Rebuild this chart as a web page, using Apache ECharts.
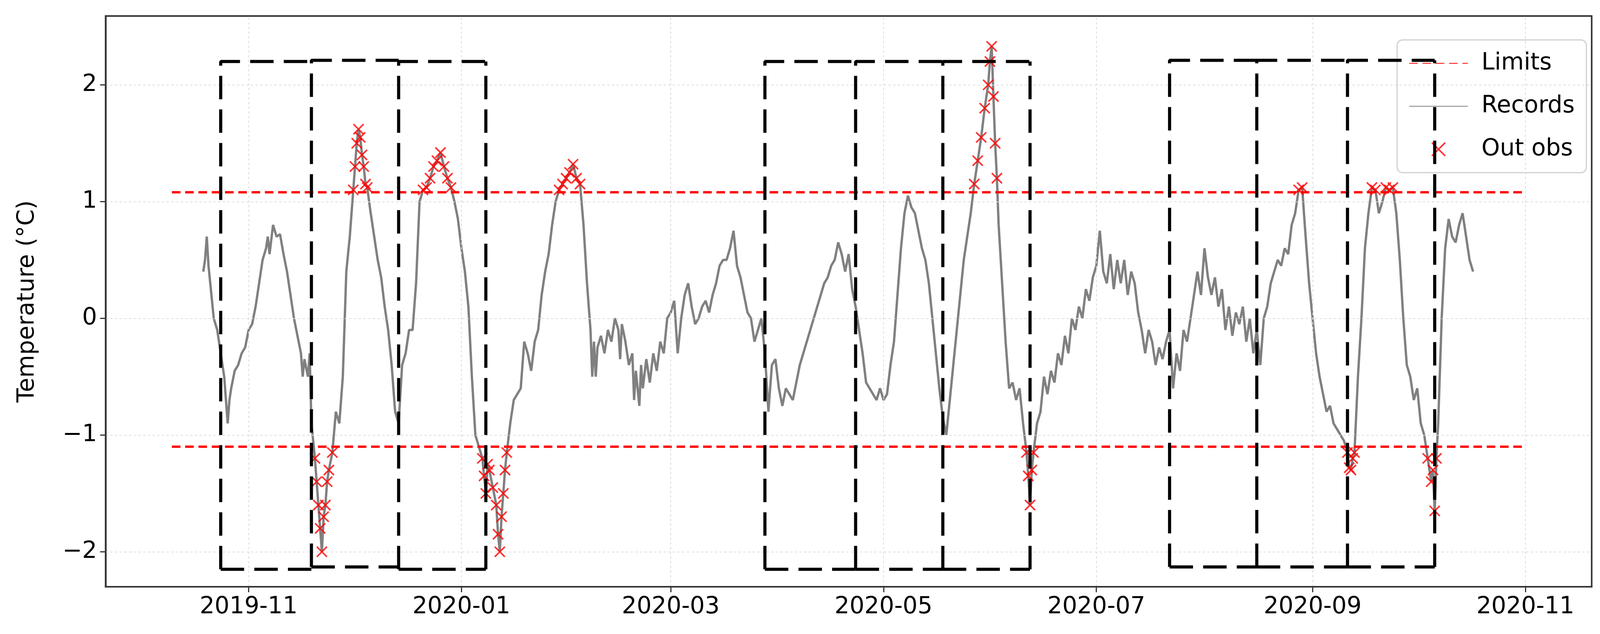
<!DOCTYPE html>
<html>
<head>
<meta charset="utf-8">
<script src="https://cdn.jsdelivr.net/npm/echarts@6/dist/echarts.min.js"></script>
<style>html,body{margin:0;padding:0;overflow:hidden;background:#fff}#chart{width:100vw;height:100vh}</style>
</head>
<body>
<div id="chart"></div>
<script>
// records: [date, temperature]
const records = [
  ['2019-10-19', 0.4], ['2019-10-19 12:00', 0.5], ['2019-10-20', 0.7], ['2019-10-20 12:00', 0.45], ['2019-10-21', 0.3],
  ['2019-10-22', 0.0], ['2019-10-23', -0.1], ['2019-10-24', -0.3], ['2019-10-25', -0.5], ['2019-10-26', -0.9],
  ['2019-10-26 12:00', -0.7], ['2019-10-27', -0.6], ['2019-10-28', -0.45], ['2019-10-29', -0.4], ['2019-10-30', -0.3],
  ['2019-10-31', -0.25], ['2019-11-01', -0.1], ['2019-11-02', -0.05], ['2019-11-03', 0.1], ['2019-11-04', 0.3],
  ['2019-11-05', 0.5], ['2019-11-06', 0.6], ['2019-11-06 12:00', 0.7], ['2019-11-07', 0.55], ['2019-11-08', 0.8],
  ['2019-11-09', 0.7], ['2019-11-10', 0.72], ['2019-11-11', 0.55], ['2019-11-12', 0.4], ['2019-11-13', 0.2],
  ['2019-11-14', 0.0], ['2019-11-15', -0.15], ['2019-11-16', -0.3], ['2019-11-16 12:00', -0.5], ['2019-11-17', -0.35],
  ['2019-11-18', -0.5], ['2019-11-18 12:00', -0.3], ['2019-11-19', -0.9], ['2019-11-20', -1.2], ['2019-11-20 12:00', -1.4],
  ['2019-11-21', -1.6], ['2019-11-21 12:00', -1.8], ['2019-11-22', -2.0], ['2019-11-22 12:00', -1.7], ['2019-11-23', -1.6],
  ['2019-11-23 12:00', -1.4], ['2019-11-24', -1.3], ['2019-11-25', -1.15], ['2019-11-26', -0.8], ['2019-11-27', -0.9],
  ['2019-11-28', -0.5], ['2019-11-29', 0.4], ['2019-11-30', 0.7], ['2019-12-01', 1.1], ['2019-12-01 12:00', 1.3],
  ['2019-12-02', 1.5], ['2019-12-02 12:00', 1.62], ['2019-12-03', 1.55], ['2019-12-03 12:00', 1.4], ['2019-12-04', 1.3],
  ['2019-12-04 12:00', 1.15], ['2019-12-05', 1.12], ['2019-12-06', 0.9], ['2019-12-07', 0.7], ['2019-12-08', 0.5],
  ['2019-12-09', 0.35], ['2019-12-10', 0.1], ['2019-12-11', -0.1], ['2019-12-12', -0.4], ['2019-12-13', -0.8],
  ['2019-12-14', -0.9], ['2019-12-15', -0.4], ['2019-12-16', -0.3], ['2019-12-17', -0.1], ['2019-12-18', -0.1],
  ['2019-12-19', 0.3], ['2019-12-20', 1.0], ['2019-12-21', 1.1], ['2019-12-22', 1.12], ['2019-12-23', 1.2],
  ['2019-12-24', 1.3], ['2019-12-25', 1.35], ['2019-12-26', 1.42], ['2019-12-27', 1.3], ['2019-12-28', 1.2],
  ['2019-12-29', 1.12], ['2019-12-30', 1.0], ['2019-12-31', 0.85], ['2020-01-01', 0.6], ['2020-01-02', 0.4],
  ['2020-01-03', 0.1], ['2020-01-04', -0.5], ['2020-01-05', -1.0], ['2020-01-06', -1.1], ['2020-01-07', -1.2],
  ['2020-01-07 12:00', -1.35], ['2020-01-08', -1.5], ['2020-01-08 12:00', -1.25], ['2020-01-09', -1.3], ['2020-01-10', -1.45],
  ['2020-01-11', -1.6], ['2020-01-11 12:00', -1.85], ['2020-01-12', -2.0], ['2020-01-12 12:00', -1.7], ['2020-01-13', -1.5],
  ['2020-01-13 12:00', -1.3], ['2020-01-14', -1.15], ['2020-01-15', -0.9], ['2020-01-16', -0.7], ['2020-01-17', -0.65],
  ['2020-01-18', -0.6], ['2020-01-19', -0.2], ['2020-01-20', -0.3], ['2020-01-21', -0.45], ['2020-01-22', -0.2],
  ['2020-01-23', -0.1], ['2020-01-24', 0.2], ['2020-01-25', 0.4], ['2020-01-26', 0.55], ['2020-01-27', 0.8],
  ['2020-01-28', 1.0], ['2020-01-29', 1.1], ['2020-01-30', 1.15], ['2020-01-31', 1.2], ['2020-02-01', 1.25],
  ['2020-02-02', 1.32], ['2020-02-03', 1.2], ['2020-02-04', 1.15], ['2020-02-05', 0.8], ['2020-02-06', 0.3],
  ['2020-02-07', -0.1], ['2020-02-07 12:00', -0.5], ['2020-02-08', -0.2], ['2020-02-08 12:00', -0.5], ['2020-02-09', -0.25],
  ['2020-02-10', -0.15], ['2020-02-11', -0.3], ['2020-02-12', -0.1], ['2020-02-13', -0.2], ['2020-02-14', 0.0],
  ['2020-02-15', -0.1], ['2020-02-15 12:00', -0.35], ['2020-02-16', -0.05], ['2020-02-17', -0.2], ['2020-02-18', -0.4],
  ['2020-02-19', -0.3], ['2020-02-19 12:00', -0.7], ['2020-02-20', -0.45], ['2020-02-21', -0.75], ['2020-02-21 12:00', -0.4],
  ['2020-02-22', -0.6], ['2020-02-23', -0.35], ['2020-02-24', -0.55], ['2020-02-25', -0.3], ['2020-02-26', -0.45],
  ['2020-02-27', -0.2], ['2020-02-28', -0.3], ['2020-02-29', 0.0], ['2020-03-01', 0.05], ['2020-03-02', 0.15],
  ['2020-03-03', -0.3], ['2020-03-04', 0.0], ['2020-03-05', 0.2], ['2020-03-06', 0.3], ['2020-03-07', 0.1],
  ['2020-03-08', -0.05], ['2020-03-09', 0.0], ['2020-03-10', 0.1], ['2020-03-11', 0.15], ['2020-03-12', 0.05],
  ['2020-03-13', 0.2], ['2020-03-14', 0.3], ['2020-03-15', 0.45], ['2020-03-16', 0.5], ['2020-03-17', 0.5],
  ['2020-03-18', 0.6], ['2020-03-19', 0.75], ['2020-03-20', 0.45], ['2020-03-21', 0.35], ['2020-03-22', 0.2],
  ['2020-03-23', 0.05], ['2020-03-24', 0.0], ['2020-03-25', -0.2], ['2020-03-26', -0.1], ['2020-03-27', 0.0],
  ['2020-03-28', -0.3], ['2020-03-29', -0.8], ['2020-03-30', -0.4], ['2020-03-31', -0.35], ['2020-04-01', -0.6],
  ['2020-04-02', -0.75], ['2020-04-03', -0.6], ['2020-04-04', -0.65], ['2020-04-05', -0.7], ['2020-04-06', -0.55],
  ['2020-04-07', -0.4], ['2020-04-08', -0.3], ['2020-04-09', -0.2], ['2020-04-10', -0.1], ['2020-04-11', 0.0],
  ['2020-04-12', 0.1], ['2020-04-13', 0.2], ['2020-04-14', 0.3], ['2020-04-15', 0.35], ['2020-04-16', 0.45],
  ['2020-04-17', 0.5], ['2020-04-18', 0.65], ['2020-04-19', 0.55], ['2020-04-20', 0.4], ['2020-04-21', 0.55],
  ['2020-04-22', 0.25], ['2020-04-23', 0.1], ['2020-04-24', -0.1], ['2020-04-25', -0.3], ['2020-04-26', -0.55],
  ['2020-04-27', -0.6], ['2020-04-28', -0.65], ['2020-04-29', -0.7], ['2020-04-30', -0.6], ['2020-05-01', -0.7],
  ['2020-05-02', -0.65], ['2020-05-03', -0.4], ['2020-05-04', -0.2], ['2020-05-05', 0.2], ['2020-05-06', 0.6],
  ['2020-05-07', 0.9], ['2020-05-08', 1.05], ['2020-05-09', 0.95], ['2020-05-10', 0.9], ['2020-05-11', 0.75],
  ['2020-05-12', 0.6], ['2020-05-13', 0.5], ['2020-05-14', 0.3], ['2020-05-15', 0.0], ['2020-05-16', -0.3],
  ['2020-05-17', -0.6], ['2020-05-18', -0.85], ['2020-05-19', -1.0], ['2020-05-20', -0.7], ['2020-05-21', -0.4],
  ['2020-05-22', -0.1], ['2020-05-23', 0.2], ['2020-05-24', 0.5], ['2020-05-25', 0.7], ['2020-05-26', 0.9],
  ['2020-05-27', 1.15], ['2020-05-28', 1.35], ['2020-05-29', 1.55], ['2020-05-30', 1.8], ['2020-05-31', 2.0],
  ['2020-05-31 12:00', 2.2], ['2020-06-01', 2.33], ['2020-06-01 12:00', 1.9], ['2020-06-02', 1.5], ['2020-06-02 12:00', 1.2],
  ['2020-06-03', 0.8], ['2020-06-04', 0.3], ['2020-06-05', -0.2], ['2020-06-06', -0.6], ['2020-06-07', -0.55],
  ['2020-06-08', -0.7], ['2020-06-09', -0.6], ['2020-06-10', -0.9], ['2020-06-11', -1.15], ['2020-06-11 12:00', -1.35],
  ['2020-06-12', -1.6], ['2020-06-12 12:00', -1.3], ['2020-06-13', -1.15], ['2020-06-14', -0.9], ['2020-06-15', -0.8],
  ['2020-06-16', -0.5], ['2020-06-17', -0.65], ['2020-06-18', -0.45], ['2020-06-19', -0.55], ['2020-06-20', -0.3],
  ['2020-06-21', -0.4], ['2020-06-22', -0.15], ['2020-06-23', -0.3], ['2020-06-24', 0.0], ['2020-06-25', -0.1],
  ['2020-06-26', 0.1], ['2020-06-27', 0.0], ['2020-06-28', 0.25], ['2020-06-29', 0.15], ['2020-06-30', 0.35],
  ['2020-07-01', 0.45], ['2020-07-02', 0.75], ['2020-07-03', 0.4], ['2020-07-04', 0.3], ['2020-07-05', 0.55],
  ['2020-07-06', 0.25], ['2020-07-07', 0.5], ['2020-07-08', 0.3], ['2020-07-09', 0.5], ['2020-07-10', 0.2],
  ['2020-07-11', 0.4], ['2020-07-12', 0.3], ['2020-07-13', 0.05], ['2020-07-14', -0.1], ['2020-07-15', -0.3],
  ['2020-07-16', -0.1], ['2020-07-17', -0.2], ['2020-07-18', -0.4], ['2020-07-19', -0.25], ['2020-07-20', -0.35],
  ['2020-07-21', -0.2], ['2020-07-22', -0.1], ['2020-07-23', -0.6], ['2020-07-24', -0.3], ['2020-07-25', -0.45],
  ['2020-07-26', -0.1], ['2020-07-27', -0.2], ['2020-07-28', 0.0], ['2020-07-29', 0.2], ['2020-07-30', 0.4],
  ['2020-07-31', 0.2], ['2020-08-01', 0.6], ['2020-08-02', 0.35], ['2020-08-03', 0.2], ['2020-08-04', 0.35],
  ['2020-08-05', 0.1], ['2020-08-06', 0.25], ['2020-08-07', -0.1], ['2020-08-08', 0.1], ['2020-08-09', -0.15],
  ['2020-08-10', 0.05], ['2020-08-11', -0.05], ['2020-08-12', 0.1], ['2020-08-13', -0.2], ['2020-08-14', 0.0],
  ['2020-08-15', -0.3], ['2020-08-16', -0.1], ['2020-08-17', -0.4], ['2020-08-18', 0.0], ['2020-08-19', 0.1],
  ['2020-08-20', 0.3], ['2020-08-21', 0.4], ['2020-08-22', 0.5], ['2020-08-23', 0.45], ['2020-08-24', 0.6],
  ['2020-08-25', 0.55], ['2020-08-26', 0.8], ['2020-08-27', 0.9], ['2020-08-28', 1.1], ['2020-08-29', 1.12],
  ['2020-08-30', 0.7], ['2020-08-31', 0.3], ['2020-09-01', 0.0], ['2020-09-02', -0.3], ['2020-09-03', -0.5],
  ['2020-09-04', -0.65], ['2020-09-05', -0.8], ['2020-09-06', -0.75], ['2020-09-07', -0.9], ['2020-09-08', -0.95],
  ['2020-09-09', -1.0], ['2020-09-10', -1.05], ['2020-09-11', -1.15], ['2020-09-11 12:00', -1.28], ['2020-09-12', -1.3],
  ['2020-09-12 12:00', -1.2], ['2020-09-13', -1.15], ['2020-09-14', -0.5], ['2020-09-15', 0.0], ['2020-09-16', 0.6],
  ['2020-09-17', 0.9], ['2020-09-18', 1.12], ['2020-09-19', 1.1], ['2020-09-20', 0.9], ['2020-09-21', 1.0],
  ['2020-09-22', 1.12], ['2020-09-23', 1.1], ['2020-09-24', 1.12], ['2020-09-25', 0.9], ['2020-09-26', 0.5],
  ['2020-09-27', 0.0], ['2020-09-28', -0.4], ['2020-09-29', -0.5], ['2020-09-30', -0.7], ['2020-10-01', -0.6],
  ['2020-10-02', -0.9], ['2020-10-03', -1.0], ['2020-10-04', -1.2], ['2020-10-05', -1.4], ['2020-10-05 12:00', -1.3],
  ['2020-10-06', -1.65], ['2020-10-06 12:00', -1.2], ['2020-10-07', -0.9], ['2020-10-08', 0.0], ['2020-10-09', 0.6],
  ['2020-10-10', 0.85], ['2020-10-11', 0.7], ['2020-10-12', 0.65], ['2020-10-13', 0.8], ['2020-10-14', 0.9],
  ['2020-10-15', 0.7], ['2020-10-16', 0.5], ['2020-10-17', 0.4]
];

const upperLimit = 1.08;
const lowerLimit = -1.1;
const limitStart = '2019-10-10';
const limitEnd = '2020-11-01';

// detection windows: [start, end, top, bottom]
const windows = [
  ['2019-10-24', '2019-11-19', 2.2, -2.15],
  ['2019-11-19', '2019-12-14', 2.21, -2.13],
  ['2019-12-14', '2020-01-08', 2.2, -2.15],
  ['2020-03-28', '2020-04-23', 2.2, -2.15],
  ['2020-04-23', '2020-05-18', 2.2, -2.15],
  ['2020-05-18', '2020-06-12', 2.2, -2.15],
  ['2020-07-22', '2020-08-16', 2.21, -2.13],
  ['2020-08-16', '2020-09-11', 2.21, -2.13],
  ['2020-09-11', '2020-10-06', 2.21, -2.13]
];

const xTicks = ['2019-11-01', '2020-01-01', '2020-03-01', '2020-05-01', '2020-07-01', '2020-09-01', '2020-11-01'];
const yTicks = [-2, -1, 0, 1, 2];

const FONT = 'DejaVu Sans';
const ts = s => new Date(s.replace(' ', 'T') + (s.length > 10 ? ':00Z' : 'T00:00:00Z')).getTime();
const fmtNum = v => (v < 0 ? '\u2212' + Math.abs(v) : String(v));
const fmtDate = v => {
  const d = new Date(v);
  return d.getUTCFullYear() + '-' + String(d.getUTCMonth() + 1).padStart(2, '0');
};

const outObs = records.filter(r => r[1] > upperLimit || r[1] < lowerLimit);
const CROSS = 'path://M0,0L10,10M10,0L0,10';

const series = [];
series.push({
  name: 'Limits', type: 'line', symbol: 'none', z: 4,
  itemStyle: { color: '#ff0000' },
  lineStyle: { color: '#ff0000', width: 6, type: [22, 12] },
  data: [[ts(limitStart), upperLimit], [ts(limitEnd), upperLimit], '-',
         [ts(limitStart), lowerLimit], [ts(limitEnd), lowerLimit]],
  markLine: {
    silent: true, symbol: 'none', label: { show: false },
    lineStyle: { color: '#dcdcdc', width: 2, type: [6, 6] },
    data: yTicks.map(v => ({ yAxis: v })).concat(xTicks.map(d => ({ xAxis: ts(d) })))
  }
});
series.push({
  name: 'Records', type: 'line', symbol: 'none', z: 3,
  itemStyle: { color: '#808080' },
  lineStyle: { color: '#808080', width: 6 },
  data: records.map(r => [ts(r[0]), r[1]])
});
series.push({
  name: 'Out obs', type: 'scatter', z: 5,
  symbol: CROSS, symbolSize: 26,
  itemStyle: { color: 'none', borderColor: '#ff0000', borderWidth: 4 },
  data: outObs.map(r => [ts(r[0]), r[1]])
});
// window frames; a right edge shared with the next window's left edge is drawn once
windows.forEach((w, i) => {
  const next = windows[i + 1];
  const shared = next && next[0] === w[1];
  const s = ts(w[0]), e = ts(w[1]);
  const data = [[s, w[3]], [s, w[2]], [e, w[2]], '-', [s, w[3]], [e, w[3]]];
  if (!shared) data.push('-', [e, w[3]], [e, w[2]]);
  series.push({
    name: 'window', type: 'line', symbol: 'none', z: 6, silent: true,
    lineStyle: { color: '#000', width: 8, type: [60, 26] },
    data: data
  });
});

const el = document.getElementById('chart');
const chart = echarts.init(el);
const W = chart.getWidth(), H = chart.getHeight();
const g = { left: W * 0.066, right: W * 0.0052, top: H * 0.0252, bottom: H * 0.0745 };
chart.setOption({
  animation: false,
  backgroundColor: '#fff',
  grid: g,
  legend: {
    data: [
      { name: 'Limits', itemStyle: { opacity: 0 } },
      { name: 'Records', itemStyle: { opacity: 0 } },
      { name: 'Out obs', icon: CROSS, itemStyle: { color: 'none', borderColor: '#ff0000', borderWidth: 4 } }
    ],
    right: W * 0.0085, top: H * 0.063, orient: 'vertical', align: 'left',
    itemWidth: 150, itemHeight: 34, itemGap: 50,
    padding: [30, 30, 30, 30],
    borderColor: '#d0d0d0', borderWidth: 3, borderRadius: 14,
    backgroundColor: 'rgba(255,255,255,0.85)',
    textStyle: { fontFamily: FONT, fontSize: 60, color: '#000', padding: [0, 0, 0, 30] }
  },
  xAxis: {
    type: 'value', min: ts('2019-09-21'), max: ts('2020-11-20'),
    axisLine: { onZero: false, lineStyle: { color: '#333', width: 4 } },
    axisTick: { show: true, customValues: xTicks.map(ts), length: 14, lineStyle: { color: '#333', width: 3 } },
    axisLabel: { customValues: xTicks.map(ts), fontFamily: FONT, fontSize: 60, color: '#000', margin: 22, formatter: fmtDate },
    splitLine: { show: false }
  },
  yAxis: {
    type: 'value', min: -2.3, max: 2.59,
    name: 'Temperature (°C)', nameLocation: 'middle', nameGap: 170,
    nameTextStyle: { fontFamily: FONT, fontSize: 60, color: '#000' },
    axisLine: { show: true, lineStyle: { color: '#333', width: 4 } },
    axisTick: { show: true, customValues: yTicks, length: 14, lineStyle: { color: '#333', width: 3 } },
    axisLabel: { customValues: yTicks, fontFamily: FONT, fontSize: 60, color: '#000', margin: 22, formatter: fmtNum },
    splitLine: { show: false }
  },
  graphic: [{
    type: 'rect', shape: { x: g.left, y: g.top, width: W - g.left - g.right, height: H - g.top - g.bottom },
    style: { fill: 'none', stroke: '#333', lineWidth: 4 }, silent: true, z: 10
  }],
  series: series
});
</script>
</body>
</html>
